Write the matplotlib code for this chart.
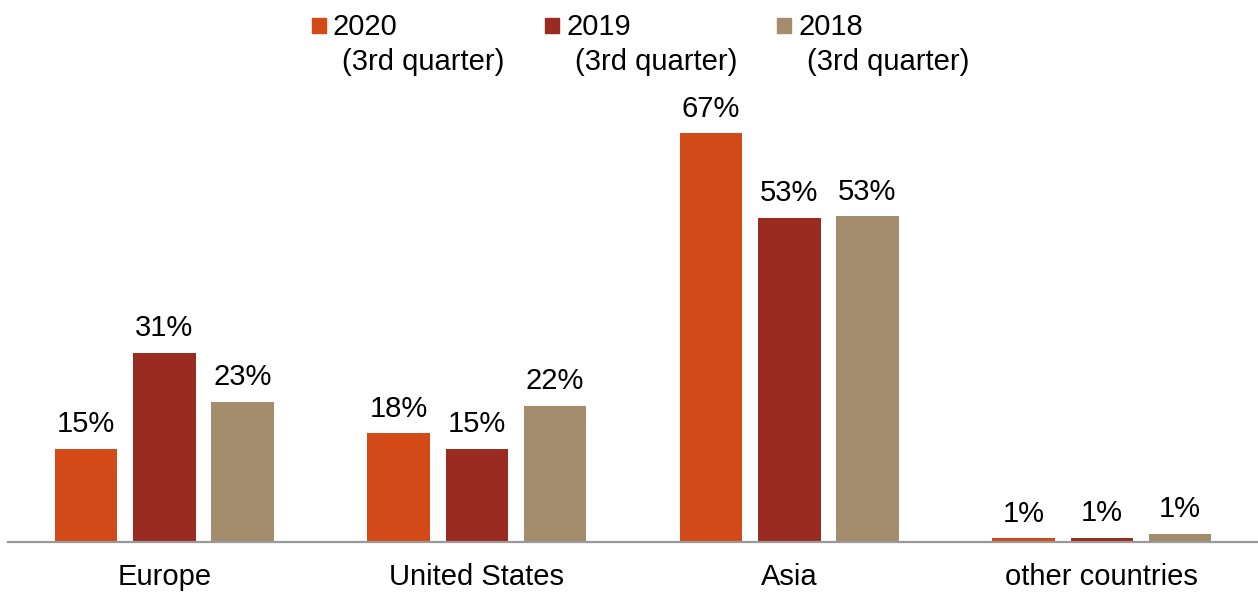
import matplotlib
matplotlib.use("Agg")
import matplotlib.pyplot as plt
import numpy as np
from matplotlib.patches import Rectangle

plt.rcParams['font.family'] = ['Liberation Sans', 'DejaVu Sans']

regions = ["Europe", "United States", "Asia", "other countries"]
series_names = ["2020", "2019", "2018"]
series_sub = "(3rd quarter)"
share_2020 = [15.3, 17.8, 67.0, 0.6]
share_2019 = [31.0, 15.3, 53.1, 0.7]
share_2018 = [23.0, 22.3, 53.4, 1.3]
colors = ["#D24A18", "#9A2B20", "#A38D6C"]

FS = 21
fig = plt.figure(figsize=(12.58, 5.92), dpi=100)
W, H = 1258, 592
ax = fig.add_axes([8 / W, 50 / H, 1250 / W, 442 / H])

x = np.arange(len(regions))
width = 0.2
pitch = 0.25
for i, (vals, c) in enumerate(zip([share_2020, share_2019, share_2018], colors)):
    pos = x + (i - 1) * pitch
    bars = ax.bar(pos, vals, width=width, color=c, edgecolor="none")
    for b, v in zip(bars, vals):
        ax.annotate(f"{v:.0f}%", (b.get_x() + b.get_width() / 2, v),
                    xytext=(0, 12), textcoords="offset points",
                    ha="center", va="baseline", fontsize=FS, color="#000000")

ax.set_xlim(-0.5, 3.5)
ax.set_ylim(0, 442 / 6.1)
for s in ["top", "right", "left"]:
    ax.spines[s].set_visible(False)
ax.spines["bottom"].set_color("#999999")
ax.spines["bottom"].set_linewidth(1.6)
ax.set_yticks([])
ax.set_xticks(x)
ax.set_xticklabels(regions, fontsize=FS)
ax.tick_params(axis="x", length=0, pad=15)

# legend drawn as squares with two-line labels
leg_x = [312, 545, 777]
for lx, name, c in zip(leg_x, series_names, colors):
    fig.patches.append(Rectangle((lx / W, 1 - 33 / H), 14 / W, 15 / H,
                                 transform=fig.transFigure, color=c))
    fig.text((lx + 21) / W, 1 - 35 / H, name, fontsize=FS, va="baseline", ha="left")
    fig.text((lx + 30) / W, 1 - 70 / H, series_sub, fontsize=FS, va="baseline", ha="left")

fig.savefig("out.png", dpi=100)
